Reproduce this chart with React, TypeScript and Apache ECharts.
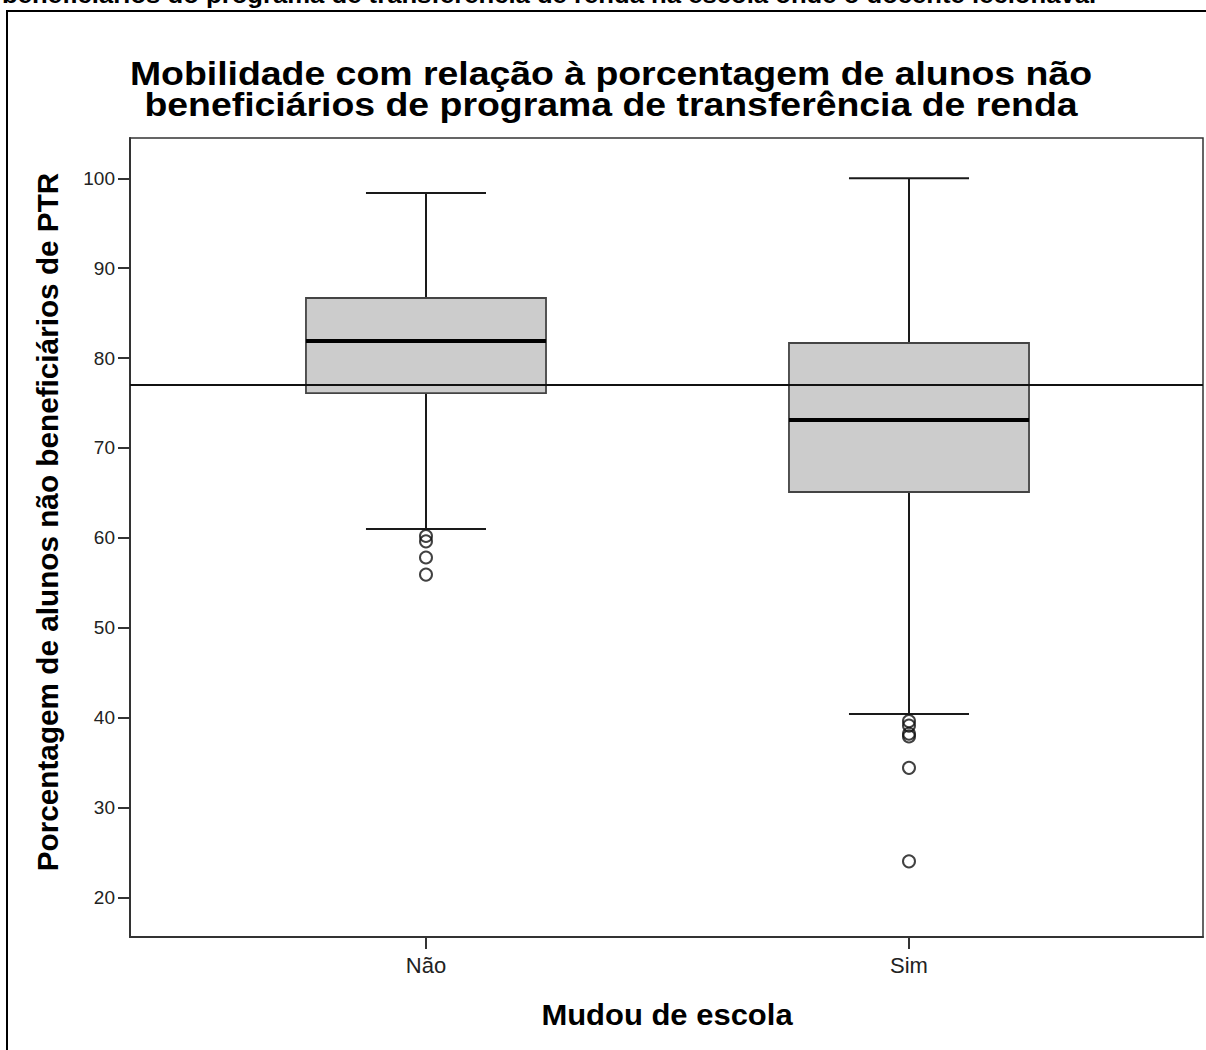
import React, { useEffect, useRef } from "react";
import * as echarts from "echarts";

const categories = ["Não", "Sim"];
const whiskerLow = [60.98, 40.4];
const quartile1 = [76.1, 65.09];
const medians = [81.88, 73.1];
const quartile3 = [86.68, 81.67];
const whiskerHigh = [98.36, 100.0];
const naoOutliers = [60.2, 59.6, 57.8, 55.9];
const simOutliers = [39.6, 39.1, 38.2, 37.9, 34.4, 24.0];
const referenceValue = 77;
const yTicks = [20, 30, 40, 50, 60, 70, 80, 90, 100];

const titleText =
  "Mobilidade com relação à porcentagem de alunos não\nbeneficiários de programa de transferência de renda";
const topCutText =
  "beneficiários do programa de transferência de renda na escola onde o docente lecionava.";
const yTitle = "Porcentagem de alunos não beneficiários de PTR";
const xTitle = "Mudou de escola";

const FONT = "'Liberation Sans', Arial, Helvetica, sans-serif";
const BOX_WIDTH = 0.497;

export default function App() {
  const ref = useRef<HTMLDivElement>(null);
  useEffect(() => {
    if (!ref.current) return;
    const chart = echarts.init(ref.current, undefined, { renderer: "svg" });
    const boxData = categories.map((_, i) => [
      i,
      whiskerLow[i],
      quartile1[i],
      medians[i],
      quartile3[i],
      whiskerHigh[i],
    ]);
    const outlierData = [
      ...naoOutliers.map((v) => [0, v]),
      ...simOutliers.map((v) => [1, v]),
    ];
    const option: any = {
      animation: false,
      backgroundColor: "#ffffff",
      grid: {
        left: 130,
        top: 138,
        width: 1073,
        height: 799,
        show: true,
        borderColor: "#333",
        borderWidth: 1.5,
        backgroundColor: "transparent",
      },
      xAxis: {
        type: "value",
        min: -0.6128,
        max: 1.6087,
        splitLine: { show: false },
        axisLine: { show: true, onZero: false, lineStyle: { color: "#333", width: 2 } },
        axisTick: {
          show: true,
          customValues: [0, 1],
          length: 12,
          lineStyle: { color: "#333", width: 2 },
        },
        axisLabel: {
          customValues: [0, 1],
          formatter: (v: number) => categories[Math.round(v)],
          fontSize: 22,
          fontFamily: FONT,
          color: "#222",
          margin: 17,
        },
      },
      yAxis: {
        type: "value",
        min: 15.58,
        max: 104.48,
        splitLine: { show: false },
        axisLine: { show: true, onZero: false, lineStyle: { color: "#333", width: 2 } },
        axisTick: {
          show: true,
          customValues: yTicks,
          length: 12,
          lineStyle: { color: "#333", width: 2 },
        },
        axisLabel: {
          customValues: yTicks,
          fontSize: 19,
          fontFamily: FONT,
          color: "#222",
          margin: 15,
        },
      },
      series: [
        {
          type: "custom",
          z: 2,
          data: boxData,
          encode: { x: 0, y: [1, 2, 3, 4, 5] },
          renderItem: (params: any, api: any) => {
            const idx = api.value(0);
            const pLow = api.coord([idx, api.value(1)]);
            const pQ1 = api.coord([idx, api.value(2)]);
            const pMed = api.coord([idx, api.value(3)]);
            const pQ3 = api.coord([idx, api.value(4)]);
            const pHigh = api.coord([idx, api.value(5)]);
            const w = api.size([BOX_WIDTH, 0])[0];
            const hw = w / 2;
            const cw = w / 4;
            const cx = pMed[0];
            const lineStyle = { stroke: "#1a1a1a", lineWidth: 2 };
            return {
              type: "group",
              children: [
                { type: "line", shape: { x1: cx, y1: pQ3[1], x2: cx, y2: pHigh[1] }, style: lineStyle },
                { type: "line", shape: { x1: cx - cw, y1: pHigh[1], x2: cx + cw, y2: pHigh[1] }, style: lineStyle },
                { type: "line", shape: { x1: cx, y1: pQ1[1], x2: cx, y2: pLow[1] }, style: lineStyle },
                { type: "line", shape: { x1: cx - cw, y1: pLow[1], x2: cx + cw, y2: pLow[1] }, style: lineStyle },
                {
                  type: "rect",
                  shape: { x: cx - hw, y: pQ3[1], width: w, height: pQ1[1] - pQ3[1] },
                  style: { fill: "#cccccc", stroke: "#444", lineWidth: 1.8 },
                },
                {
                  type: "line",
                  shape: { x1: cx - hw, y1: pMed[1], x2: cx + hw, y2: pMed[1] },
                  style: { stroke: "#000", lineWidth: 4 },
                },
              ],
            };
          },
        },
        {
          type: "scatter",
          z: 3,
          data: outlierData,
          symbol: "circle",
          symbolSize: 12,
          itemStyle: { color: "rgba(0,0,0,0)", borderColor: "#111", borderWidth: 2 },
          markLine: {
            silent: true,
            symbol: ["none", "none"],
            label: { show: false },
            lineStyle: { color: "#111", width: 2, type: "solid" },
            data: [{ yAxis: referenceValue }],
          },
        },
      ],
      graphic: [
        {
          type: "rect",
          shape: { x: 7, y: 11, width: 1400, height: 1200 },
          style: { fill: "none", stroke: "#000", lineWidth: 2 },
          silent: true,
        },
        {
          type: "text",
          x: 2,
          y: 7,
          scaleX: 1.07,
          style: {
            text: topCutText,
            font: `bold 24px ${FONT}`,
            fill: "#000",
            textAlign: "left",
            textVerticalAlign: "bottom",
          },
        },
        {
          type: "text",
          x: 611,
          y: 89,
          scaleX: 1.1,
          style: {
            text: titleText,
            font: `bold 34px ${FONT}`,
            lineHeight: 31,
            fill: "#000",
            textAlign: "center",
            textVerticalAlign: "middle",
          },
        },
        {
          type: "text",
          x: 48,
          y: 522,
          rotation: Math.PI / 2,
          scaleX: 1.025,
          style: {
            text: yTitle,
            font: `bold 29px ${FONT}`,
            fill: "#000",
            textAlign: "center",
            textVerticalAlign: "middle",
          },
        },
        {
          type: "text",
          x: 667,
          y: 1015,
          scaleX: 1.068,
          style: {
            text: xTitle,
            font: `bold 29px ${FONT}`,
            fill: "#000",
            textAlign: "center",
            textVerticalAlign: "middle",
          },
        },
      ],
    };
    chart.setOption(option);
    return () => chart.dispose();
  }, []);
  return (
    <div
      ref={ref}
      style={{ position: "absolute", left: 0, top: 0, width: 1206, height: 1050, background: "#fff" }}
    />
  );
}
